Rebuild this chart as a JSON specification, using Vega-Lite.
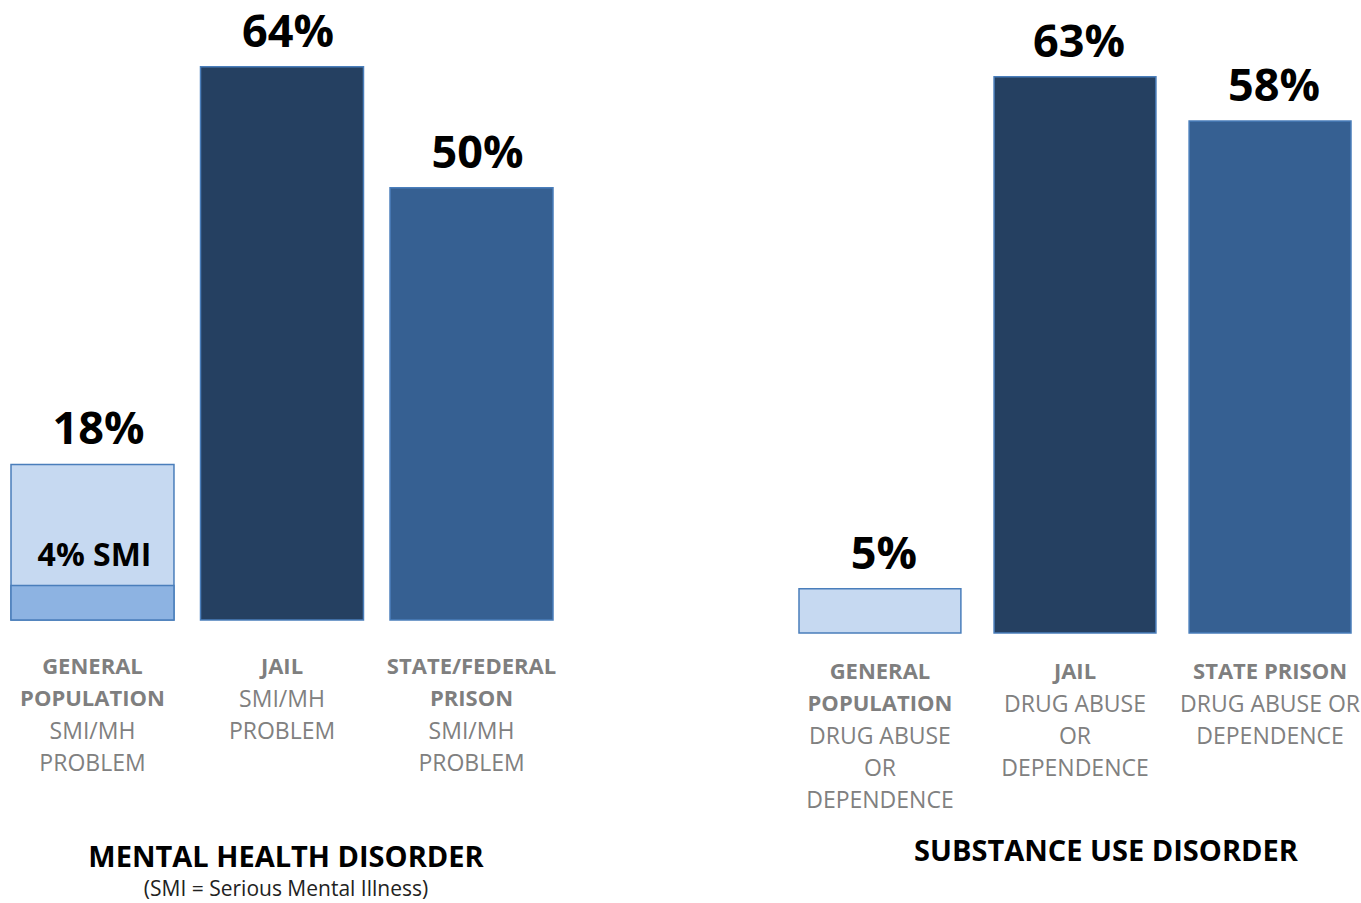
{
  "$schema": "https://vega.github.io/schema/vega-lite/v6.json",
  "padding": {"left": 10, "top": 10, "right": 0, "bottom": 30},
  "background": "white",
  "bounds": "flush",
  "spacing": 246,
  "config": {
    "view": {"stroke": null},
    "font": "Open Sans",
    "title": {"font": "Open Sans", "fontSize": 29, "fontWeight": "bold", "color": "#000000", "orient": "bottom", "anchor": "middle", "subtitleFont": "Open Sans", "subtitleFontSize": 21, "subtitleColor": "#222222", "subtitlePadding": 6}
  },
  "data": {
    "values": [
      {"panel": "mh", "kind": "general", "head": ["GENERAL", "POPULATION"], "sub": ["SMI/MH", "PROBLEM"], "value": 18, "label": "18%", "smi": 4, "smiLabel": "4% SMI"},
      {"panel": "mh", "kind": "jail", "head": ["JAIL"], "sub": ["SMI/MH", "PROBLEM"], "value": 64, "label": "64%"},
      {"panel": "mh", "kind": "prison", "head": ["STATE/FEDERAL", "PRISON"], "sub": ["SMI/MH", "PROBLEM"], "value": 50, "label": "50%"},
      {"panel": "sud", "kind": "general", "head": ["GENERAL", "POPULATION"], "sub": ["DRUG ABUSE", "OR", "DEPENDENCE"], "value": 5, "label": "5%"},
      {"panel": "sud", "kind": "jail", "head": ["JAIL"], "sub": ["DRUG ABUSE", "OR", "DEPENDENCE"], "value": 63, "label": "63%"},
      {"panel": "sud", "kind": "prison", "head": ["STATE PRISON"], "sub": ["DRUG ABUSE OR", "DEPENDENCE"], "value": 58, "label": "58%"}
    ]
  },
  "hconcat": [
    {
      "width": 542,
      "height": 605,
      "title": {"text": "MENTAL HEALTH DISORDER", "subtitle": "(SMI = Serious Mental Illness)", "offset": 68, "dx": 4},
      "transform": [{"filter": "datum.panel === 'mh'"}],
      "encoding": {
        "x": {"field": "kind", "type": "nominal", "sort": ["general", "jail", "prison"], "axis": null, "scale": {"paddingInner": 0.14, "paddingOuter": 0}}
      },
      "layer": [
        {
          "mark": {"type": "bar", "stroke": "#4a7ebb", "strokeWidth": 1.5},
          "encoding": {
            "y": {"field": "value", "type": "quantitative", "axis": null, "scale": {"domain": [0, 70], "nice": false}},
            "color": {"field": "kind", "type": "nominal", "legend": null, "scale": {"domain": ["general", "jail", "prison"], "range": ["#c6d9f1", "#254061", "#366092"]}}
          }
        },
        {
          "transform": [{"filter": "isValid(datum.smi)"}],
          "mark": {"type": "bar", "stroke": "#4a7ebb", "strokeWidth": 1.5, "color": "#8db3e2"},
          "encoding": {
            "y": {"field": "smi", "type": "quantitative"}
          }
        },
        {
          "transform": [{"filter": "isValid(datum.smi)"}],
          "mark": {"type": "text", "fontSize": 32, "fontWeight": "bold", "color": "#000000", "baseline": "alphabetic", "dy": -19, "dx": 2},
          "encoding": {
            "y": {"field": "smi", "type": "quantitative"},
            "text": {"field": "smiLabel"}
          }
        },
        {
          "mark": {"type": "text", "fontSize": 45, "fontWeight": "bold", "color": "#000000", "baseline": "alphabetic", "dy": -20, "dx": 6},
          "encoding": {
            "y": {"field": "value", "type": "quantitative"},
            "text": {"field": "label"}
          }
        },
        {
          "mark": {"type": "text", "fontSize": 22, "fontWeight": "bold", "color": "#7f7f7f", "baseline": "top", "lineHeight": 32, "dy": 37},
          "encoding": {
            "y": {"datum": 0},
            "text": {"field": "head"}
          }
        },
        {
          "mark": {"type": "text", "fontSize": 23, "color": "#808080", "baseline": "top", "lineHeight": 32, "dy": {"expr": "37 + 32 * length(datum.head)"}},
          "encoding": {
            "y": {"datum": 0},
            "text": {"field": "sub"}
          }
        }
      ]
    },
    {
      "width": 552,
      "height": 618,
      "title": {"text": "SUBSTANCE USE DISORDER", "offset": 25, "dx": 31},
      "transform": [{"filter": "datum.panel === 'sud'"}],
      "encoding": {
        "x": {"field": "kind", "type": "nominal", "sort": ["general", "jail", "prison"], "axis": null, "scale": {"paddingInner": 0.17, "paddingOuter": 0}}
      },
      "layer": [
        {
          "mark": {"type": "bar", "stroke": "#4a7ebb", "strokeWidth": 1.5},
          "encoding": {
            "y": {"field": "value", "type": "quantitative", "axis": null, "scale": {"domain": [0, 70], "nice": false}},
            "color": {"field": "kind", "type": "nominal", "legend": null, "scale": {"domain": ["general", "jail", "prison"], "range": ["#c6d9f1", "#254061", "#366092"]}}
          }
        },
        {
          "mark": {"type": "text", "fontSize": 45, "fontWeight": "bold", "color": "#000000", "baseline": "alphabetic", "dy": -20, "dx": 4},
          "encoding": {
            "y": {"field": "value", "type": "quantitative"},
            "text": {"field": "label"}
          }
        },
        {
          "mark": {"type": "text", "fontSize": 22, "fontWeight": "bold", "color": "#7f7f7f", "baseline": "top", "lineHeight": 32, "dy": 29},
          "encoding": {
            "y": {"datum": 0},
            "text": {"field": "head"}
          }
        },
        {
          "mark": {"type": "text", "fontSize": 23, "color": "#808080", "baseline": "top", "lineHeight": 32, "dy": {"expr": "29 + 32 * length(datum.head)"}},
          "encoding": {
            "y": {"datum": 0},
            "text": {"field": "sub"}
          }
        }
      ]
    }
  ]
}
